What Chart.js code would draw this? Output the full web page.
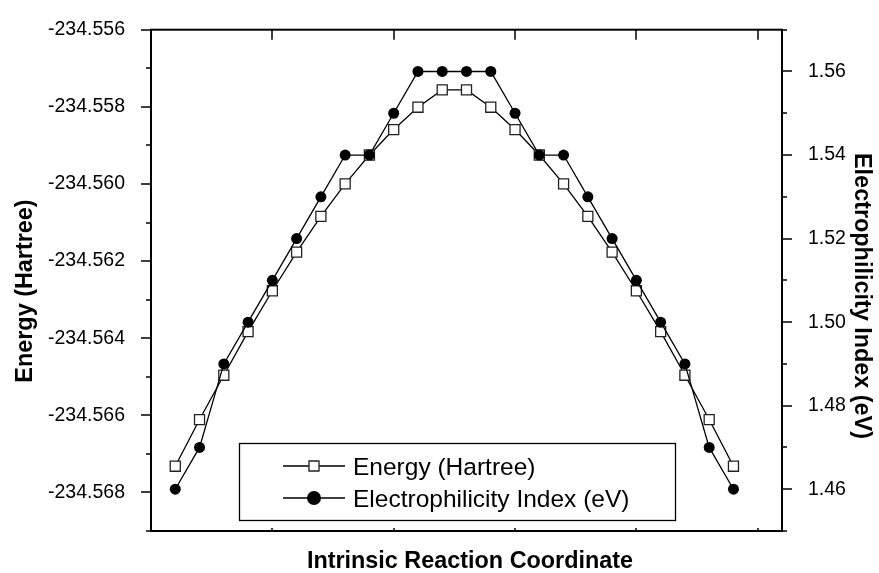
<!DOCTYPE html>
<html>
<head>
<meta charset="utf-8">
<title>IRC energy / electrophilicity</title>
<script src="https://cdn.jsdelivr.net/npm/chart.js@4.4.1/dist/chart.umd.min.js"></script>
<style>
  html, body { margin: 0; padding: 0; background: #fff; }
  #chart-wrapper { width: 879px; height: 573px; position: relative; }
</style>
</head>
<body>
<div id="chart-wrapper"><canvas id="myChart"></canvas></div>
<script>
// points along the reaction path
const coordinate = [1, 2, 3, 4, 5, 6, 7, 8, 9, 10, 11, 12, 13, 14, 15, 16, 17, 18, 19, 20, 21, 22, 23, 24]
const energy = [-234.56732, -234.56611, -234.56496, -234.56383, -234.56277, -234.56177, -234.56084, -234.56000,
  -234.55925, -234.55859, -234.55801, -234.55756, -234.55756, -234.55801, -234.55859, -234.55925,
  -234.56000, -234.56084, -234.56177, -234.56277, -234.56383, -234.56496, -234.56611, -234.56732]
const electrophilicity = [1.46, 1.47, 1.49, 1.50, 1.51, 1.52, 1.53, 1.54, 1.54, 1.55, 1.56, 1.56,
  1.56, 1.56, 1.55, 1.54, 1.54, 1.53, 1.52, 1.51, 1.50, 1.49, 1.47, 1.46]
const energyTickLabels = ['-234.556', '-234.558', '-234.560', '-234.562', '-234.564', '-234.566', '-234.568']
const electroTickLabels = ['1.46', '1.48', '1.50', '1.52', '1.54', '1.56']
const xTitle = 'Intrinsic Reaction Coordinate'
const yLeftTitle = 'Energy (Hartree)'
const yRightTitle = 'Electrophilicity Index (eV)'

const FONT = '"Liberation Sans", Arial, Helvetica, sans-serif'

// build minor + major ticks at a fixed step
function stepTicks(scale, step, n) {
  const ticks = []
  for (let i = 0; i <= n; i++) ticks.push({ value: scale.min + i * step })
  scale.ticks = ticks
}

// frame, inward/outward tick marks, titles and the boxed legend
const origin = {
  id: 'origin',
  beforeDatasetsDraw(chart) {
    const ctx = chart.ctx
    const a = chart.chartArea
    const { x, yE, yW } = chart.scales
    ctx.save()
    ctx.strokeStyle = '#000'
    ctx.lineWidth = 2
    ctx.strokeRect(a.left, a.top, a.right - a.left, a.bottom - a.top)
    ctx.lineWidth = 1.5
    ctx.beginPath()
    yE.ticks.forEach(t => {
      const y = Math.round(yE.getPixelForValue(t.value))
      const len = energyTickLabels.includes(t.value.toFixed(3)) ? 10 : 5
      ctx.moveTo(a.left - len, y)
      ctx.lineTo(a.left, y)
    })
    yW.ticks.forEach(t => {
      const y = Math.round(yW.getPixelForValue(t.value))
      const len = electroTickLabels.includes(t.value.toFixed(2)) ? 10 : 5
      ctx.moveTo(a.right, y)
      ctx.lineTo(a.right + len, y)
    })
    x.ticks.forEach(t => {
      if (t.value <= x.min || t.value >= x.max) return
      const px = Math.round(x.getPixelForValue(t.value))
      ctx.moveTo(px, a.top)
      ctx.lineTo(px, a.top + 10)
      ctx.moveTo(px, a.bottom)
      ctx.lineTo(px, a.bottom - 3)
    })
    ctx.stroke()
    ctx.restore()
  },
  afterDraw(chart) {
    const ctx = chart.ctx
    const a = chart.chartArea
    ctx.save()
    ctx.fillStyle = '#000'
    ctx.font = 'bold 23.4px ' + FONT
    ctx.textAlign = 'center'
    ctx.textBaseline = 'alphabetic'
    ctx.fillText(xTitle, 470, 568)

    ctx.save()
    ctx.translate(31.5, 291)
    ctx.rotate(-Math.PI / 2)
    ctx.fillText(yLeftTitle, 0, 0)
    ctx.restore()

    ctx.save()
    ctx.translate(855, 296)
    ctx.rotate(Math.PI / 2)
    ctx.fillText(yRightTitle, 0, 0)
    ctx.restore()

    // legend box
    ctx.fillStyle = '#fff'
    ctx.fillRect(239, 443, 437, 78)
    ctx.strokeStyle = '#000'
    ctx.lineWidth = 1.3
    ctx.strokeRect(239.5, 443.5, 436, 77)
    const rows = [466, 498]
    chart.data.datasets.forEach((ds, i) => {
      const y = rows[i]
      ctx.strokeStyle = ds.borderColor
      ctx.lineWidth = ds.borderWidth
      ctx.beginPath()
      ctx.moveTo(283, y)
      ctx.lineTo(345, y)
      ctx.stroke()
      ctx.fillStyle = ds.pointBackgroundColor
      ctx.strokeStyle = ds.pointBorderColor
      ctx.lineWidth = ds.pointBorderWidth
      Chart.helpers.drawPoint(ctx, {
        pointStyle: ds.pointStyle,
        radius: ds.pointStyle === 'circle' ? 7 : ds.pointRadius,
        rotation: 0,
        borderWidth: ds.pointBorderWidth
      }, 314, y)
      ctx.fillStyle = '#000'
      ctx.font = '24.5px ' + FONT
      ctx.textAlign = 'left'
      ctx.fillText(ds.label, 353, y + 8.7)
    })
    ctx.restore()
  }
}

const ctx = document.getElementById('myChart')
const myChart = new Chart(ctx, {
  type: 'line',
  data: {
    datasets: [{
      label: 'Energy (Hartree)',
      data: coordinate.map((c, i) => ({ x: c, y: energy[i] })),
      yAxisID: 'yE',
      borderColor: '#000',
      borderWidth: 1.3,
      pointStyle: 'rect',
      pointRadius: 7.1,
      pointBackgroundColor: '#fff',
      pointBorderColor: '#222',
      pointBorderWidth: 1.3,
      tension: 0,
      order: 2
    }, {
      label: 'Electrophilicity Index (eV)',
      data: coordinate.map((c, i) => ({ x: c, y: electrophilicity[i] })),
      yAxisID: 'yW',
      borderColor: '#000',
      borderWidth: 1.3,
      pointStyle: 'circle',
      pointRadius: 5.5,
      pointBackgroundColor: '#000',
      pointBorderColor: '#000',
      pointBorderWidth: 0,
      tension: 0,
      order: 1
    }]
  },
  options: {
    responsive: true,
    maintainAspectRatio: false,
    animation: false,
    events: [],
    layout: { padding: { top: 20, right: 0, bottom: 0, left: 0 } },
    plugins: {
      legend: { display: false },
      tooltip: { enabled: false }
    },
    scales: {
      x: {
        type: 'linear',
        position: 'bottom',
        min: 0,
        max: 26,
        ticks: { display: false, stepSize: 5 },
        grid: { display: false },
        border: { display: false },
        afterFit: s => { s.height = 42 }
      },
      yE: {
        type: 'linear',
        position: 'left',
        min: -234.569,
        max: -234.556,
        afterBuildTicks: s => stepTicks(s, 0.001, 13),
        ticks: {
          autoSkip: false,
          padding: 18,
          color: '#000',
          font: { family: FONT, size: 19.5 },
          callback: v => {
            const s = v.toFixed(3)
            return energyTickLabels.includes(s) ? s : ''
          }
        },
        grid: { display: false },
        border: { display: false },
        afterFit: s => { s.width = 151 }
      },
      yW: {
        type: 'linear',
        position: 'right',
        min: 1.45,
        max: 1.57,
        afterBuildTicks: s => stepTicks(s, 0.01, 12),
        ticks: {
          autoSkip: false,
          padding: 18,
          color: '#000',
          font: { family: FONT, size: 19.5 },
          callback: v => {
            const s = v.toFixed(2)
            return electroTickLabels.includes(s) ? s : ''
          }
        },
        grid: { display: false },
        border: { display: false },
        afterFit: s => { s.width = 97 }
      }
    }
  },
  plugins: [origin]
})
</script>
</body>
</html>
